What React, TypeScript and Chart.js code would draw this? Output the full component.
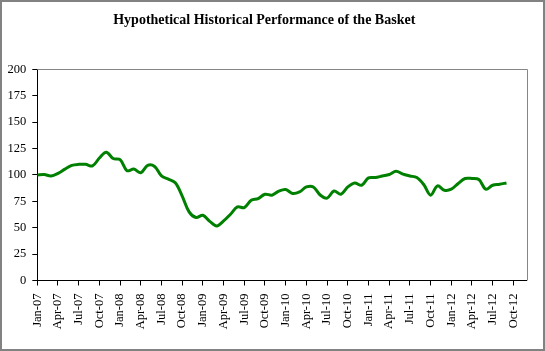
import React, { useEffect, useRef } from "react";
import { Chart, registerables } from "chart.js";

Chart.register(...registerables);

const titleText = "Hypothetical Historical Performance of the Basket";

const tickLabels = [
  "Jan-07", "Apr-07", "Jul-07", "Oct-07",
  "Jan-08", "Apr-08", "Jul-08", "Oct-08",
  "Jan-09", "Apr-09", "Jul-09", "Oct-09",
  "Jan-10", "Apr-10", "Jul-10", "Oct-10",
  "Jan-11", "Apr-11", "Jul-11", "Oct-11",
  "Jan-12", "Apr-12", "Jul-12", "Oct-12",
];

// monthly index values, Jan-07 (month 0) to Sep-12 (month 68)
const basketValues = [
  100, 100.3, 99, 101.5, 105.5, 109, 110, 110, 108.5, 116,
  121.5, 115.5, 114.5, 104, 105.5, 102, 109, 108, 99, 96,
  92.5, 80, 65, 59.7, 61.8, 56, 51.7, 56.4, 62.8, 69.7,
  69.1, 76, 77.6, 81.7, 80.8, 84.6, 86.2, 82.4, 83.9, 88.6,
  88.6, 81, 78, 84.8, 81.7, 88.6, 92.4, 90.2, 97.2, 97.5,
  99, 100.4, 103.5, 100.7, 99, 97.5, 90.9, 80.8, 89.6, 85.5,
  86.5, 91.9, 96.6, 96.6, 95.6, 86.5, 90.2, 91.2, 92.4,
];

const yTicks = [0, 25, 50, 75, 100, 125, 150, 175, 200];

const frame = {
  id: "frame",
  beforeDatasetsDraw(chart: any) {
    const { ctx, chartArea } = chart;
    const { left, top, right, bottom } = chartArea;
    ctx.save();
    ctx.strokeStyle = "#868686";
    ctx.lineWidth = 1;
    ctx.beginPath();
    ctx.moveTo(left, Math.round(top) + 0.5);
    ctx.lineTo(Math.round(right) + 0.5, Math.round(top) + 0.5);
    ctx.lineTo(Math.round(right) + 0.5, bottom);
    ctx.stroke();
    ctx.restore();
  },
};

export default function App() {
  const ref = useRef<HTMLCanvasElement>(null);
  useEffect(() => {
    document.body.style.margin = "0";
    const data = basketValues.map((v, i) => ({ x: i, y: v }));
    const chart = new Chart(ref.current!, {
      type: "line",
      data: {
        datasets: [
          {
            data,
            borderColor: "#008000",
            borderWidth: 3,
            pointRadius: 0,
            tension: 0.35,
            fill: false,
          },
        ],
      },
      options: {
        animation: false,
        responsive: false,
        devicePixelRatio: 1,
        layout: { padding: { left: 0, right: 16.5, top: 0, bottom: 0 } },
        plugins: {
          legend: { display: false },
          tooltip: { enabled: false },
          title: {
            display: true,
            text: titleText,
            color: "#000",
            font: { family: "Liberation Serif", size: 14, weight: "bold" },
            padding: { top: 10.1, bottom: 40.4 },
          },
        },
        scales: {
          x: {
            type: "linear",
            min: 0,
            max: 70.9,
            afterFit: (s: any) => {
              s.height = 68.5;
            },
            afterBuildTicks: (s: any) => {
              s.ticks = tickLabels.map((_, i) => ({ value: i * 3 }));
            },
            ticks: {
              includeBounds: false,
              autoSkip: false,
              minRotation: 90,
              maxRotation: 90,
              padding: 8,
              color: "#000",
              font: { family: "Liberation Serif", size: 12.5 },
              callback: (v: any) => tickLabels[Math.round(Number(v) / 3)] ?? "",
            },
            grid: {
              display: true,
              drawOnChartArea: false,
              drawTicks: true,
              tickLength: 5,
              color: "#000",
            },
            border: { display: true, color: "#000", width: 1 },
          },
          y: {
            min: 0,
            max: 200,
            afterFit: (s: any) => {
              s.width = 35.3;
            },
            afterBuildTicks: (s: any) => {
              s.ticks = yTicks.map((v) => ({ value: v }));
            },
            ticks: {
              padding: 6,
              color: "#000",
              font: { family: "Liberation Serif", size: 12.5 },
            },
            grid: {
              display: true,
              drawOnChartArea: false,
              drawTicks: true,
              tickLength: 5,
              color: "#000",
            },
            border: { display: true, color: "#000", width: 1 },
          },
        },
      },
      plugins: [frame],
    });
    return () => chart.destroy();
  }, []);
  return (
    <div
      style={{
        width: 545,
        height: 351,
        boxSizing: "border-box",
        border: "2px solid #828282",
        background: "#fff",
      }}
    >
      <canvas ref={ref} width={541} height={347} style={{ display: "block" }} />
    </div>
  );
}
